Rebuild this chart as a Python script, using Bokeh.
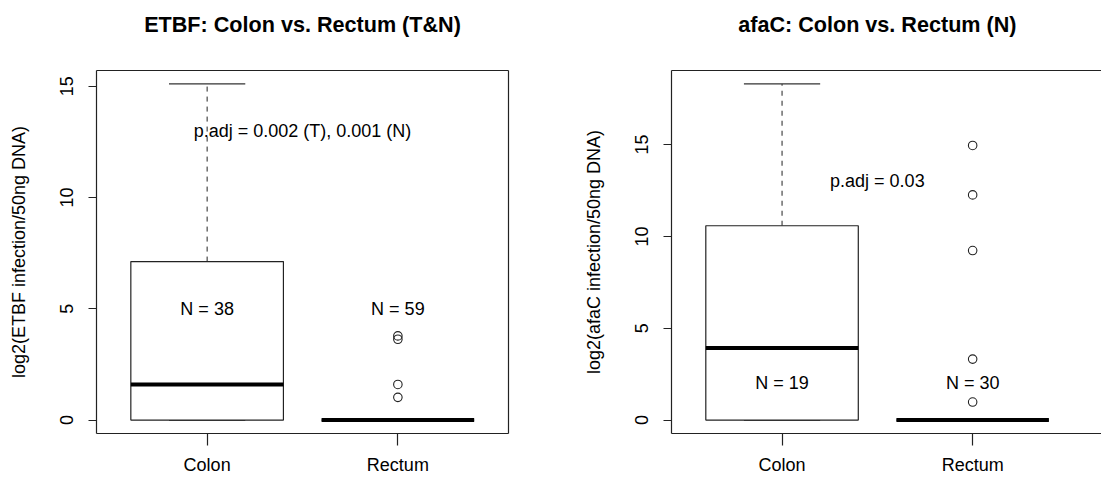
from bokeh.plotting import figure
from bokeh.layouts import row, column
from bokeh.models import Range1d, FixedTicker, LinearAxis
from bokeh.core.properties import value
from bokeh.embed import file_html
from bokeh.resources import INLINE

FONT = "Liberation Sans"

# ---------------- data ----------------
groups = ["Colon", "Rectum"]
group_pos = [1, 2]

# ETBF panel (five-number summaries)
etbf_lower = [0.0, 0.0]
etbf_q1 = [0.0, 0.0]
etbf_median = [1.6, 0.0]
etbf_q3 = [7.12, 0.0]
etbf_upper = [15.1, 0.0]
etbf_out_x = [2, 2, 2, 2]
etbf_out_y = [3.78, 3.63, 1.6, 1.02]
etbf_n = ["N = 38", "N = 59"]
etbf_n_y = [5, 5]
etbf_p = "p.adj = 0.002 (T), 0.001 (N)"

# afaC panel
afac_lower = [0.0, 0.0]
afac_q1 = [0.0, 0.0]
afac_median = [3.92, 0.0]
afac_q3 = [10.58, 0.0]
afac_upper = [18.3, 0.0]
afac_out_x = [2, 2, 2, 2, 2]
afac_out_y = [14.95, 12.26, 9.23, 3.32, 0.98]
afac_n = ["N = 19", "N = 30"]
afac_n_y = [2, 2]
afac_p = "p.adj = 0.03"

y_ticks = [0, 5, 10, 15]

TITLE_H = 48


def make_title(title, width, xr, mbl, mbr):
    t = figure(width=width, height=TITLE_H, output_backend="svg", toolbar_location=None,
               x_range=Range1d(*xr), y_range=Range1d(0, 1),
               min_border_left=mbl, min_border_right=mbr, min_border_top=0,
               min_border_bottom=0, x_axis_type=None, y_axis_type=None)
    t.outline_line_color = None
    t.grid.visible = False
    t.text(x=[1.5], y=[0.5], text=[title], text_align="center", text_baseline="middle",
           text_font=value(FONT), text_font_size="21.6px", text_font_style="bold",
           text_color="black")
    return t


def make_panel(ylab, lower, q1, med, q3, upper, ox, oy, ntxt, ny, ptxt,
               width, yr, xr, mbl, mbr):
    p = figure(width=width, height=477 - TITLE_H, output_backend="svg",
               toolbar_location=None,
               x_range=Range1d(*xr), y_range=Range1d(*yr),
               min_border_left=mbl, min_border_right=mbr, min_border_top=70 - TITLE_H,
               min_border_bottom=44, x_axis_type=None, y_axis_type=None)
    p.outline_line_color = None
    p.grid.visible = False
    p.background_fill_color = "white"
    p.border_fill_color = "white"

    # axes
    xa = LinearAxis(ticker=FixedTicker(ticks=group_pos),
                    major_label_overrides={gp: g for gp, g in zip(group_pos, groups)})
    ya = LinearAxis(ticker=FixedTicker(ticks=y_ticks), axis_label=ylab)
    for ax in (xa, ya):
        ax.axis_line_color = "#222222"
        ax.axis_line_width = 1.2
        ax.major_tick_line_color = "#222222"
        ax.major_tick_line_width = 1.2
        ax.major_tick_in = 0
        ax.minor_tick_line_color = None
        ax.major_label_text_font = FONT
        ax.major_label_text_font_size = "18px"
        ax.major_label_text_color = "black"
    xa.major_tick_out = 12
    xa.major_label_standoff = 9
    ya.major_tick_out = 8
    ya.major_label_standoff = 15
    ya.major_label_orientation = "vertical"
    ya.axis_label_text_font = FONT
    ya.axis_label_text_font_size = "18px"
    ya.axis_label_text_font_style = "normal"
    ya.axis_label_text_color = "black"
    ya.axis_label_standoff = 29
    p.add_layout(xa, "below")
    p.add_layout(ya, "left")

    top = LinearAxis(ticker=FixedTicker(ticks=[]), major_tick_out=0, major_tick_in=0,
                     major_label_standoff=0, axis_line_color="#222222", axis_line_width=1.2,
                     minor_tick_line_color=None, major_label_text_font_size="0px")
    p.add_layout(top, "above")
    if mbr > 0:
        right = LinearAxis(ticker=FixedTicker(ticks=[]), major_tick_out=0, major_tick_in=0,
                           major_label_standoff=0, axis_line_color="#222222", axis_line_width=1.2,
                           minor_tick_line_color=None, major_label_text_font_size="0px")
        p.add_layout(right, "right")

    xs = group_pos
    # whiskers (dashed)
    p.segment(x0=xs, y0=q3, x1=xs, y1=upper, line_color="#222222", line_width=1,
              line_dash="5 5")
    p.segment(x0=xs, y0=lower, x1=xs, y1=q1, line_color="#222222", line_width=1,
              line_dash="5 5")
    # staples
    p.segment(x0=[x - 0.2 for x in xs], y0=upper, x1=[x + 0.2 for x in xs], y1=upper,
              line_color="#333333", line_width=1.2)
    p.segment(x0=[x - 0.2 for x in xs], y0=lower, x1=[x + 0.2 for x in xs], y1=lower,
              line_color="#333333", line_width=1.2)
    # boxes
    p.quad(left=[x - 0.4 for x in xs], right=[x + 0.4 for x in xs], bottom=q1, top=q3,
           fill_color="white", line_color="#222222", line_width=1.2)
    # medians
    p.segment(x0=[x - 0.4 for x in xs], y0=med, x1=[x + 0.4 for x in xs], y1=med,
              line_color="black", line_width=4)
    # outliers
    p.scatter(x=ox, y=oy, marker="circle", size=8.5, fill_color=None,
              line_color="#222222", line_width=1.1)
    # texts
    p.text(x=xs, y=ny, text=ntxt, text_align="center", text_baseline="middle",
           text_font=value(FONT), text_font_size="18px", text_color="black")
    p.text(x=[1.5], y=[13], text=[ptxt], text_align="center", text_baseline="middle",
           text_font=value(FONT), text_font_size="18px", text_color="black")
    return p


L_XR, R_XR = (0.42, 2.58), (0.42, 2.676)

t1 = make_title("ETBF: Colon vs. Rectum (T&N)", 550, L_XR, 96, 42)
t2 = make_title("afaC: Colon vs. Rectum (N)", 551, R_XR, 121, 0)
p1 = make_panel("log2(ETBF infection/50ng DNA)",
                etbf_lower, etbf_q1, etbf_median, etbf_q3, etbf_upper,
                etbf_out_x, etbf_out_y, etbf_n, etbf_n_y, etbf_p,
                width=550, yr=(-0.604, 15.704), xr=L_XR, mbl=96, mbr=42)
p2 = make_panel("log2(afaC infection/50ng DNA)",
                afac_lower, afac_q1, afac_median, afac_q3, afac_upper,
                afac_out_x, afac_out_y, afac_n, afac_n_y, afac_p,
                width=551, yr=(-0.732, 19.032), xr=R_XR, mbl=121, mbr=0)

layout = column(row(t1, t2), row(p1, p2))
open("out.html", "w").write(file_html(layout, INLINE))
